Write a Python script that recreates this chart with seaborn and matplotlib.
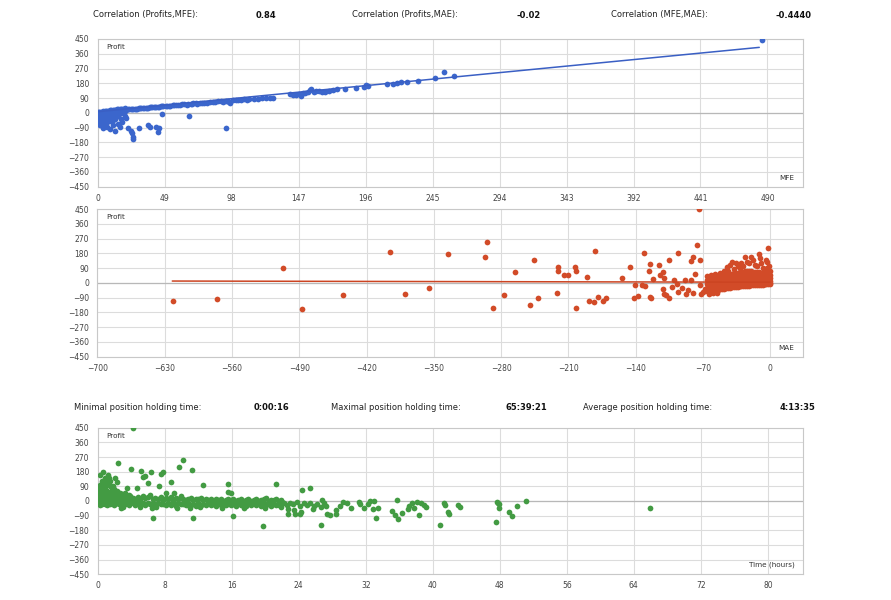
import numpy as np
import pandas as pd
import matplotlib
matplotlib.use("Agg")
import matplotlib.pyplot as plt
import seaborn as sns

# ---------------- DATA ----------------
# header values
corr_labels = ["Correlation (Profits,MFE):", "Correlation (Profits,MAE):", "Correlation (MFE,MAE):"]
corr_values = ["0.84", "-0.02", "-0.4440"]
hold_labels = ["Minimal position holding time:", "Maximal position holding time:", "Average position holding time:"]
hold_values = ["0:00:16", "65:39:21", "4:13:35"]

profit_ticks = [-450, -360, -270, -180, -90, 0, 90, 180, 270, 360, 450]
mfe_ticks = [0, 49, 98, 147, 196, 245, 294, 343, 392, 441, 490]
mae_ticks = [-700, -630, -560, -490, -420, -350, -280, -210, -140, -70, 0]
time_ticks = [0, 8, 16, 24, 32, 40, 48, 56, 64, 72, 80]

# panel 1 : (MFE, Profit)
mfe_cluster = [
    (0.3, 5), (0.3, -10), (0.3, -25), (0.3, -40), (0.3, -55), (0.3, -68),
    (1, 6), (1, -8), (1, -22), (1, -36), (1, -50), (1, -64),
    (2, 7), (2, -5), (2, -18), (2, -30), (2, -45), (2, -60),
    (3, 8), (3, -3), (3, -15), (3, -28), (3, -42), (3, -56), (3, -75),
    (4, 9), (4, 0), (4, -12), (4, -25), (4, -38), (4, -52),
    (5, 10), (5, 2), (5, -10), (5, -22), (5, -35), (5, -48), (5, -80),
    (6, 11), (6, 3), (6, -8), (6, -20), (6, -32), (6, -45),
    (7, 13), (7, 4), (7, -6), (7, -18), (7, -30), (7, -42), (7, -55),
    (8, 14), (8, 5), (8, -5), (8, -15), (8, -28), (8, -40),
    (9, 15), (9, 6), (9, -3), (9, -13), (9, -25), (9, -36), (9, -50),
    (10, 16), (10, 8), (10, -2), (10, -12), (10, -22), (10, -33),
    (11, 18), (11, 9), (11, 0), (11, -10), (11, -20), (11, -30), (11, -45),
    (12, 19), (12, 10), (12, 1), (12, -8), (12, -18), (12, -28),
    (13, 20), (13, 12), (13, 3), (13, -6), (13, -15), (13, -25), (13, -38),
    (14, 21), (14, 13), (14, 4), (14, -5), (14, -14),
    (15, 22), (15, 14), (15, 6), (15, -3), (15, -12), (15, -22),
    (16, 23), (16, 16), (16, 8), (17, 24), (17, 17), (17, 10), (17, 0),
    (18, 25), (18, 18), (18, 11), (19, 26), (19, 20), (20, 27), (20, 21), (20, 14),
]
mfe_line = [
    (21, 20), (22, 21), (23, 21), (24, 22), (25, 23), (26, 24), (27, 25), (28, 25),
    (29, 26), (30, 27), (31, 28), (32, 28), (33, 29), (34, 30), (35, 31), (36, 31),
    (37, 32), (38, 33), (39, 34), (40, 34), (41, 35), (42, 36), (43, 37), (44, 37),
    (45, 38), (46, 39), (47, 40), (48, 40), (50, 42), (51, 42), (52, 43), (53, 44),
    (55, 46), (56, 46), (57, 47), (59, 49), (60, 50), (62, 51), (63, 52), (65, 46),
    (66, 55), (68, 52), (69, 56), (70, 58), (72, 59), (73, 56), (75, 62), (76, 58),
    (78, 63), (80, 62), (82, 66), (84, 64), (86, 67), (88, 70), (90, 71), (92, 66),
    (94, 73), (95, 72), (96, 68), (97, 62), (99, 76), (101, 77), (103, 79), (105, 78),
    (107, 82), (109, 80), (111, 84), (114, 86), (117, 86), (120, 88), (123, 91), (126, 89),
    (128, 92), (141, 112), (143, 108), (145, 110), (147, 115), (149, 102), (150, 118),
    (152, 120), (154, 126), (155, 138), (156, 145), (158, 128), (160, 132), (162, 136),
    (164, 130), (166, 128), (169, 134), (172, 140), (175, 144), (181, 148), (189, 152),
    (195, 160), (196, 168), (198, 165), (212, 178), (216, 174), (219, 182), (222, 186),
    (226, 188), (234, 192), (247, 211), (253, 247), (261, 226), (486, 444),
]
mfe_low = [
    (9, -100), (13, -112), (16, -84), (21, -33), (22, -94), (20, -20), (25, -125),
    (25.5, -145), (26, -160), (24, -110), (30, -94), (37, -74), (38, -84), (43, -84),
    (44, -115), (45, -95), (47, -7), (67, -19), (94, -95), (11, -75), (18, -55),
    (15, -65), (7, -88), (4, -90), (2, -75), (17, -40),
]
mfe_trend_x = [0, 484]
mfe_trend_y = [7, 399]

# panel 2 : (MAE, Profit)
mae_far = [
    (-621, -110), (-576, -100), (-507, 90), (-487, -161), (-444, -74), (-396, 190),
    (-380, -70), (-355, -33), (-335, 176), (-295, 251), (-297, 159), (-288, -155),
    (-277, -74), (-266, 64), (-250, -135), (-246, 140), (-242, -94), (-222, -60),
    (-221, 98), (-221, 72), (-215, 48), (-210, 48), (-203, 98), (-202, 74), (-202, -151),
    (-191, 37), (-189, -109), (-183, -115), (-182, 194), (-179, -88), (-174, -109),
    (-171, -90), (-154, 31), (-146, 94), (-142, -94), (-141, -16), (-138, -83),
    (-133, -13), (-131, 180), (-130, -18), (-126, 74), (-125, 113), (-125, -84),
    (-124, -90), (-122, 23), (-116, 109), (-115, 48), (-112, 68), (-111, 31), (-112, -39),
    (-111, -68), (-108, -74), (-105, 139), (-105, -90), (-102, -28), (-100, 17),
    (-96, 184), (-96, -54), (-97, -5), (-92, -33), (-89, 17), (-88, -68), (-86, -44),
    (-83, 133), (-82, 17), (-80, 159), (-78, 54), (-80, -63), (-76, 231), (-74, 448),
    (-73, 139), (-72, -68), (-73, -13), (-70, -54), (-68, -40), (-66, 40),
]
mae_cluster = [
    (-66, 18), (-66, -5), (-66, -30), (-66, -52),
    (-64, 22), (-64, 0), (-64, -20), (-64, -42), (-64, -56),
    (-62, 25), (-62, 5), (-62, -15), (-62, -35), (-62, -50),
    (-60, 28), (-60, 8), (-60, -12), (-60, -30), (-60, -48),
    (-58, 30), (-58, 10), (-58, -10), (-58, -28), (-58, -46),
    (-56, 32), (-56, 12), (-56, -8), (-56, -25), (-56, -44),
    (-54, 35), (-54, 15), (-54, -5), (-54, -22), (-54, -42),
    (-52, 38), (-52, 18), (-52, -2), (-52, -20), (-52, -40),
    (-50, 40), (-50, 20), (-50, 0), (-50, -18), (-50, -38),
    (-48, 45), (-48, 22), (-48, 2), (-48, -15), (-48, -36),
    (-46, 48), (-46, 25), (-46, 5), (-46, -12), (-46, -34),
    (-44, 50), (-44, 28), (-44, 8), (-44, -10), (-44, -32),
    (-42, 52), (-42, 30), (-42, 10), (-42, -8), (-42, -30),
    (-40, 55), (-40, 32), (-40, 12), (-40, -6), (-40, -28),
    (-38, 58), (-38, 35), (-38, 15), (-38, -5), (-38, -27),
    (-36, 60), (-36, 38), (-36, 18), (-36, -2), (-36, -25),
    (-34, 62), (-34, 40), (-34, 20), (-34, 0), (-34, -24),
    (-32, 64), (-32, 42), (-32, 22), (-32, 2), (-32, -22),
    (-30, 66), (-30, 44), (-30, 24), (-30, 4), (-30, -21),
    (-28, 68), (-28, 46), (-28, 26), (-28, 6), (-28, -20),
    (-26, 70), (-26, 48), (-26, 28), (-26, 8), (-26, -19),
    (-24, 72), (-24, 50), (-24, 30), (-24, 10), (-24, -18),
    (-22, 70), (-22, 50), (-22, 30), (-22, 10), (-22, -17),
    (-20, 70), (-20, 48), (-20, 28), (-20, 8), (-20, -16),
    (-18, 68), (-18, 46), (-18, 26), (-18, 6), (-18, -15),
    (-16, 68), (-16, 46), (-16, 26), (-16, 6), (-16, -14),
    (-14, 66), (-14, 44), (-14, 24), (-14, 5), (-14, -13),
    (-12, 64), (-12, 42), (-12, 22), (-12, 4), (-12, -12),
    (-10, 62), (-10, 40), (-10, 20), (-10, 2), (-10, -12),
    (-8, 60), (-8, 38), (-8, 18), (-8, 0), (-8, -11),
    (-6, 58), (-6, 36), (-6, 16), (-6, -2), (-6, -10),
    (-4, 55), (-4, 34), (-4, 14), (-4, -2), (-4, -10),
    (-2, 52), (-2, 30), (-2, 12), (-2, -3), (-2, -9),
    (0, 48), (0, 28), (0, 10), (0, -3), (0, -8),
]
mae_upper = [
    (-62, 45), (-58, 55), (-55, -60), (-52, 62), (-48, 75), (-45, 95), (-44, 70),
    (-42, 110), (-40, 129), (-38, 85), (-36, 119), (-34, 100), (-32, 90), (-30, 119),
    (-28, 105), (-26, 155), (-24, 130), (-22, 120), (-20, 159), (-18, 140), (-16, 110),
    (-14, 100), (-12, 176), (-11, 150), (-10, 119), (-8, 90), (-6, 80), (-4, 140),
    (-3, 88), (-2, 210), (-3, 129), (0, 70), (-1, 100), (-64, -65), (-60, -62),
]
mae_trend_x = [-622, 0]
mae_trend_y = [11, 4]

# panel 3 : (holding time in hours, Profit)
time_head = [
    (0.1, 80), (0.1, 50), (0.1, 25), (0.1, 5), (0.1, -15),
    (0.3, 100), (0.3, 60), (0.3, 35), (0.3, 10), (0.3, -10), (0.3, -25),
    (0.5, 120), (0.5, 70), (0.5, 40), (0.5, 15), (0.5, -5), (0.5, -20),
    (0.7, 90), (0.7, 55), (0.7, 30), (0.7, 8), (0.7, -12),
    (0.9, 130), (0.9, 75), (0.9, 45), (0.9, 20), (0.9, 0), (0.9, -18),
    (1.1, 110), (1.1, 60), (1.1, 35), (1.1, 12), (1.1, -8), (1.1, -22),
    (1.3, 140), (1.3, 50), (1.3, 25), (1.3, 5), (1.3, -15),
    (1.5, 95), (1.5, 45), (1.5, 20), (1.5, 0), (1.5, -20),
    (1.7, 65), (1.7, 35), (1.7, 12), (1.7, -8),
    (1.9, 75), (1.9, 40), (1.9, 15), (1.9, -5), (1.9, -25),
    (2.1, 55), (2.1, 30), (2.1, 8), (2.1, -12),
    (2.3, 60), (2.3, 25), (2.3, 5), (2.3, -15),
    (2.5, 45), (2.5, 20), (2.5, 0), (2.5, -18),
    (2.7, 50), (2.7, 28), (2.7, 6), (2.7, -14),
    (2.9, 40), (2.9, 18), (2.9, -2), (2.9, -22),
    (3.1, 35), (3.1, 12), (3.1, -10), (3.3, 48), (3.3, 22), (3.3, 2), (3.3, -16),
    (3.5, 30), (3.5, 8), (3.5, -12), (3.7, 38), (3.7, 15), (3.7, -8), (3.7, -25),
    (3.9, 28), (3.9, 5), (3.9, -15),
]
time_band = [
    (4.2, 20), (4.2, -15), (4.5, 12), (4.5, -22), (4.8, 25), (4.8, -8), (5.1, 15), (5.1, -18),
    (5.4, 30), (5.4, -12), (5.7, 18), (5.7, -25), (6.0, 22), (6.0, -10), (6.3, 35), (6.3, -20),
    (6.6, 10), (6.6, -15), (6.9, 20), (6.9, -28), (7.2, 14), (7.2, -12), (7.5, 25), (7.5, -20),
    (7.8, 8), (7.8, -18), (8.1, 18), (8.1, -25), (8.4, 12), (8.4, -10), (8.7, 22), (8.7, -22),
    (9.0, 6), (9.0, -15), (9.3, 16), (9.3, -28), (9.6, 10), (9.6, -12), (9.9, 28), (9.9, -20),
    (10.2, 12), (10.2, -16), (10.5, 5), (10.5, -25), (10.8, 15), (10.8, -12), (11.1, 20), (11.1, -22),
    (11.4, 8), (11.4, -18), (11.7, 14), (11.7, -30), (12.0, 10), (12.0, -14), (12.3, 18), (12.3, -24),
    (12.6, 4), (12.6, -16), (12.9, 12), (12.9, -26), (13.2, 8), (13.2, -12), (13.5, 15), (13.5, -22),
    (13.8, 2), (13.8, -18), (14.1, 10), (14.1, -28), (14.4, 6), (14.4, -14), (14.7, 14), (14.7, -24),
    (15.0, 0), (15.0, -16), (15.3, 8), (15.3, -26), (15.6, 12), (15.6, -12), (15.9, 4), (15.9, -22),
    (16.2, 10), (16.2, -18), (16.5, 2), (16.5, -28), (16.8, 8), (16.8, -14), (17.1, 14), (17.1, -24),
    (17.4, 0), (17.4, -20), (17.7, 6), (17.7, -30), (18.0, 10), (18.0, -16), (18.3, 2), (18.3, -26),
    (18.6, 8), (18.6, -12), (18.9, 12), (18.9, -22), (19.2, 0), (19.2, -18), (19.5, 6), (19.5, -28),
    (19.8, 10), (19.8, -14), (20.1, 16), (20.1, -24), (20.4, 2), (20.4, -20), (20.7, 8), (20.7, -30),
    (21.0, 4), (21.0, -16), (21.3, 10), (21.3, -26), (21.6, 0), (21.6, -22), (21.9, 6), (21.9, -34),
    (5.0, -35), (7.0, -38), (9.5, -40), (12.2, -38), (14.8, -40), (17.5, -42), (20.0, -45),
    (3.0, -35), (6.5, -45), (11.0, -45),
    (22.0, -5), (22.3, -15), (22.6, -25), (23.0, -10), (23.3, -20), (23.8, -5), (24.2, -30),
    (24.6, -15), (25.0, -25), (25.4, -10), (25.8, -30), (26.2, -20), (26.6, -35), (27.0, -15),
]
time_outliers = [
    (4.18, 446), (2.46, 231), (3.98, 194), (5.17, 186), (5.37, 145), (5.65, 153), (6.37, 176),
    (6.04, 112), (7.56, 166), (7.84, 180), (7.36, 94), (8.75, 115), (9.7, 210), (10.2, 252),
    (11.3, 190), (12.6, 98), (15.6, 102), (15.5, 55), (15.9, 50), (8.16, 51), (9.15, 47),
    (6.57, -106), (11.4, -106), (16.2, -90), (2.78, -45), (0.27, 160), (0.67, 180), (1.19, 160),
    (0.9, 140), (1.5, 125), (0.5, 110), (2.07, 139), (2.27, 118), (3.46, 78), (4.66, 78),
    (1.0, 100), (1.8, 90), (19.7, -154), (21.3, 102), (24.4, 67), (25.3, 82), (26.7, -147),
]
time_tail = [
    (22.7, -51), (22.7, -80), (23.4, -58), (23.6, -80), (24.1, -81), (24.3, -70), (25.7, -51),
    (26.8, 6), (27.3, -30), (27.4, -82), (27.7, -86), (28.4, -77), (28.5, -57), (28.9, -30),
    (29.3, -5), (29.8, -10), (30.2, -40), (31.2, -8), (31.3, -16), (31.8, -40), (32.3, -20),
    (32.5, -3), (32.9, -48), (33.0, 0), (33.2, -106), (33.5, -45), (35.1, -62), (35.5, -83),
    (35.7, 6), (35.8, -109), (36.3, -75), (37.0, -50), (37.2, -30), (37.5, -15), (37.8, -42),
    (38.1, -7), (38.4, -86), (38.6, -15), (38.9, -25), (39.2, -35), (40.9, -150), (41.3, -14),
    (41.5, -25), (41.8, -65), (41.9, -80), (43.0, -24), (43.3, -34), (47.7, -4), (47.8, -12),
    (47.9, -20), (47.9, -44), (47.6, -127), (49.1, -68), (49.5, -92), (50.1, -29), (51.1, 2),
    (65.9, -45),
]

BLUE = "#3b66cc"
RED = "#d24b28"
GREEN = "#439b43"

sns.set_theme(style="white")
plt.rcParams['font.family'] = ['DejaVu Sans']

W, H = 891, 600


def frame(groups, xname):
    rows = [p for g in groups for p in g]
    return pd.DataFrame(rows, columns=[xname, "Profit"])


def style_panel(ax, xlim, xticks, corner):
    ax.set_xlim(*xlim)
    ax.set_ylim(-450, 450)
    ax.set_xticks(xticks)
    ax.set_yticks(profit_ticks)
    ax.grid(True, color="#dcdcdc", linewidth=0.8)
    ax.set_axisbelow(True)
    ax.axhline(0, color="#b8b8b8", linewidth=0.9, zorder=1)
    for s in ax.spines.values():
        s.set_color("#c8c8c8")
        s.set_linewidth(0.8)
    ax.tick_params(axis="both", length=0, labelsize=5.5, labelcolor="#444444")
    ax.tick_params(axis="y", pad=6)
    ax.tick_params(axis="x", pad=5)
    ax.set_xlabel("")
    ax.set_ylabel("")
    ax.text(0.012, 0.965, "Profit", transform=ax.transAxes, fontsize=5.2,
            color="#333333", va="top", ha="left")
    ax.text(0.988, 0.04, corner, transform=ax.transAxes, fontsize=5.2,
            color="#333333", va="bottom", ha="right")


fig = plt.figure(figsize=(W / 100, H / 100), dpi=100)
fig.patch.set_facecolor("white")


def px_axes(left, top, right, bottom):
    return fig.add_axes([left / W, 1 - bottom / H, (right - left) / W, (bottom - top) / H])


ax1 = px_axes(97.7, 39, 803, 186.7)
ax2 = px_axes(97.3, 209, 803, 356.7)
ax3 = px_axes(97.7, 427.7, 803, 574.3)

df1 = frame([mfe_cluster, mfe_line, mfe_low], "MFE")
sns.scatterplot(data=df1, x="MFE", y="Profit", color=BLUE, s=17, linewidth=0, ax=ax1, zorder=3)
sns.lineplot(x=mfe_trend_x, y=mfe_trend_y, color="#3a5fc4", linewidth=1.1, ax=ax1, zorder=4)
style_panel(ax1, (0, 516), mfe_ticks, "MFE")

df2 = frame([mae_far, mae_cluster, mae_upper], "MAE")
sns.scatterplot(data=df2, x="MAE", y="Profit", color=RED, s=17, linewidth=0, ax=ax2, zorder=3)
sns.lineplot(x=mae_trend_x, y=mae_trend_y, color="#cc4422", linewidth=1.1, ax=ax2, zorder=4)
style_panel(ax2, (-700, 34), mae_ticks, "MAE")

df3 = frame([time_head, time_band, time_outliers, time_tail], "Hours")
sns.scatterplot(data=df3, x="Hours", y="Profit", color=GREEN, s=17, linewidth=0, ax=ax3, zorder=3)
style_panel(ax3, (0, 84.2), time_ticks, "Time (hours)")

# header rows
corr_lx = [93, 352, 611]
corr_vx = [276, 541, 812]
for lab, val, lx, vx in zip(corr_labels, corr_values, corr_lx, corr_vx):
    fig.text(lx / W, 1 - 15 / H, lab, fontsize=6, color="#222222", va="center", ha="left")
    fig.text(vx / W, 1 - 15 / H, val, fontsize=6, color="#111111", va="center", ha="right",
             fontweight="bold")

hold_lx = [74, 331, 583]
hold_vx = [289, 547, 815]
for lab, val, lx, vx in zip(hold_labels, hold_values, hold_lx, hold_vx):
    fig.text(lx / W, 1 - 407 / H, lab, fontsize=6, color="#222222", va="center", ha="left")
    fig.text(vx / W, 1 - 407 / H, val, fontsize=6, color="#111111", va="center", ha="right",
             fontweight="bold")

fig.savefig("out.png", dpi=100, facecolor="white")
